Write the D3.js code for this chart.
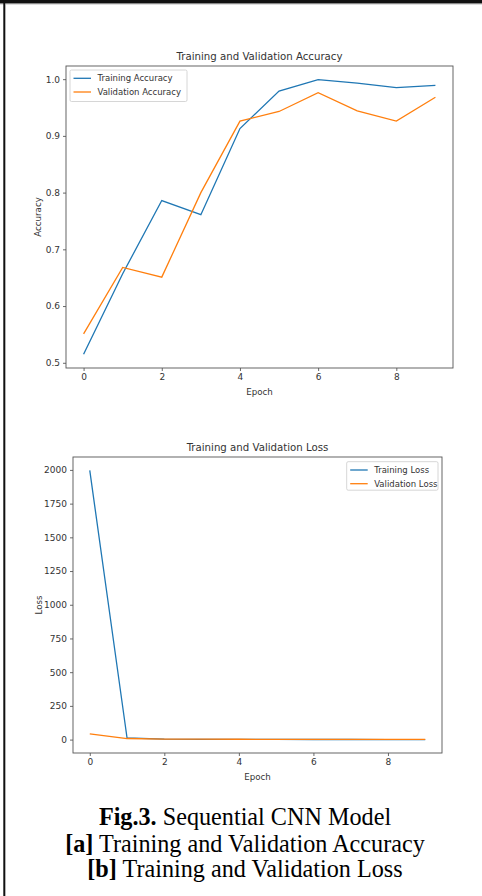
<!DOCTYPE html>
<html>
<head>
<meta charset="utf-8">
<script src="https://d3js.org/d3.v7.min.js"></script>
<style>
  body { margin: 0; background: #fff; }
  svg text { font-family: "DejaVu Sans", sans-serif; fill: #333; }
  svg text.caption { font-family: "Liberation Serif", "Times New Roman", serif; fill: #000; }
</style>
</head>
<body>
<div id="chart"></div>
<script>
// Data
var epochs = [0, 1, 2, 3, 4, 5, 6, 7, 8, 9];
var trainAcc = [0.515, 0.657, 0.786, 0.761, 0.913, 0.979, 0.999, 0.993, 0.985, 0.989];
var valAcc = [0.551, 0.668, 0.651, 0.800, 0.926, 0.943, 0.976, 0.944, 0.926, 0.968];
var trainLoss = [1996, 12, 3, 2, 1.5, 1, 0.8, 0.6, 0.5, 0.4];
var valLoss = [42, 8, 4, 3, 2.5, 2, 2, 1.8, 1.5, 1.5];
var accTicks = [0.5, 0.6, 0.7, 0.8, 0.9, 1.0];
var lossTicks = [0, 250, 500, 750, 1000, 1250, 1500, 1750, 2000];
var epochTicks = [0, 2, 4, 6, 8];

var svgWidth = 482;
var svgHeight = 896;

var blue = "#1f77b4";
var orange = "#ff7f0e";

var svg = d3.select("#chart")
  .append("svg")
  .attr("width", svgWidth)
  .attr("height", svgHeight);

// page border (top + left only)
svg.append("rect").attr("x", 0).attr("y", 0).attr("width", svgWidth).attr("height", 3.6).attr("fill", "#111");
svg.append("rect").attr("x", 0).attr("y", 3.6).attr("width", svgWidth).attr("height", 0.8).attr("fill", "#aaa");
svg.append("rect").attr("x", 3.3).attr("y", 0).attr("width", 1.9).attr("height", svgHeight).attr("fill", "#111");
svg.append("rect").attr("x", 5.2).attr("y", 4.4).attr("width", 0.8).attr("height", svgHeight).attr("fill", "#aaa");

// matplotlib style autoscale: 5% margins
function padded(values) {
  var lo = d3.min(values), hi = d3.max(values);
  var m = (hi - lo) * 0.05;
  return [lo - m, hi + m];
}

function drawPanel(opts) {
  var g = svg.append("g");
  var left = opts.box[0], top = opts.box[1], right = opts.box[2], bottom = opts.box[3];

  var x = d3.scaleLinear().domain(padded(epochs)).range([left, right]);
  var y = d3.scaleLinear().domain(padded(opts.a.concat(opts.b))).range([bottom, top]);

  // Step 1: axes
  var xAxis = d3.axisBottom(x).tickValues(epochTicks).tickSize(3).tickPadding(3).tickFormat(d3.format("d"));
  var yAxis = d3.axisLeft(y).tickValues(opts.yTicks).tickSize(3).tickPadding(3).tickFormat(opts.fmt);

  var gx = g.append("g").attr("transform", `translate(0, ${bottom})`).call(xAxis);
  var gy = g.append("g").attr("transform", `translate(${left}, 0)`).call(yAxis);
  [gx, gy].forEach(function(a) {
    a.select(".domain").remove();
    a.selectAll(".tick line").attr("stroke", "#444").attr("stroke-width", 0.8);
    a.selectAll(".tick text").attr("font-size", 9).attr("fill", "#333")
      .attr("font-family", "DejaVu Sans");
  });

  // Step 2: lines
  var line = d3.line().x((d, i) => x(epochs[i])).y(d => y(d));
  g.append("path").datum(opts.a).attr("d", line)
    .attr("fill", "none").attr("stroke", blue).attr("stroke-width", 1.3);
  g.append("path").datum(opts.b).attr("d", line)
    .attr("fill", "none").attr("stroke", orange).attr("stroke-width", 1.3);

  // frame
  g.append("rect")
    .attr("x", left).attr("y", top)
    .attr("width", right - left).attr("height", bottom - top)
    .attr("fill", "none").attr("stroke", "#555").attr("stroke-width", 0.9);

  // Step 3: labels
  g.append("text").text(opts.title)
    .attr("x", (left + right) / 2).attr("y", top - 6)
    .attr("text-anchor", "middle").attr("font-size", 10.2);
  g.append("text").text("Epoch")
    .attr("x", (left + right) / 2).attr("y", bottom + 27)
    .attr("text-anchor", "middle").attr("font-size", 8.7);
  g.append("text").text(opts.ylabel)
    .attr("transform", `translate(${opts.ylabelX}, ${(top + bottom) / 2}) rotate(-90)`)
    .attr("text-anchor", "middle").attr("font-size", 8.7);

  // Step 4: legend
  var lg = opts.legend;
  g.append("rect")
    .attr("x", lg.x).attr("y", lg.y).attr("width", lg.w).attr("height", lg.h)
    .attr("rx", 1.5).attr("fill", "#fff").attr("fill-opacity", 0.8)
    .attr("stroke", "#ccc").attr("stroke-width", 0.8);
  opts.names.forEach(function(name, i) {
    var cy = lg.y + 8.3 + i * 13.7;
    g.append("line")
      .attr("x1", lg.x + 3.5).attr("x2", lg.x + 21).attr("y1", cy).attr("y2", cy)
      .attr("stroke", i === 0 ? blue : orange).attr("stroke-width", 1.3);
    g.append("text").text(name)
      .attr("x", lg.x + 27.5).attr("y", cy + 3)
      .attr("font-size", 8.5);
  });
}

drawPanel({
  box: [66, 66, 453, 368],
  a: trainAcc, b: valAcc,
  yTicks: accTicks, fmt: d3.format(".1f"),
  title: "Training and Validation Accuracy",
  ylabel: "Accuracy", ylabelX: 41.3,
  names: ["Training Accuracy", "Validation Accuracy"],
  legend: { x: 70, y: 70, w: 117, h: 31.5 }
});

drawPanel({
  box: [73, 457, 442, 753],
  a: trainLoss, b: valLoss,
  yTicks: lossTicks, fmt: d3.format("d"),
  title: "Training and Validation Loss",
  ylabel: "Loss", ylabelX: 42.3,
  names: ["Training Loss", "Validation Loss"],
  legend: { x: 346.7, y: 461.7, w: 91.3, h: 28.5 }
});

// Caption
var caption = [
  [["Fig.3.", true], [" Sequential CNN Model", false]],
  [["[a]", true], [" Training and Validation Accuracy", false]],
  [["[b]", true], [" Training and Validation Loss", false]]
];
var captionY = [825, 851.7, 876.7];
caption.forEach(function(parts, i) {
  var t = svg.append("text").attr("class", "caption")
    .attr("x", 245).attr("y", captionY[i])
    .attr("text-anchor", "middle").attr("font-size", 24.2);
  parts.forEach(function(p) {
    t.append("tspan").text(p[0]).attr("font-weight", p[1] ? "bold" : "normal");
  });
});
</script>
</body>
</html>
